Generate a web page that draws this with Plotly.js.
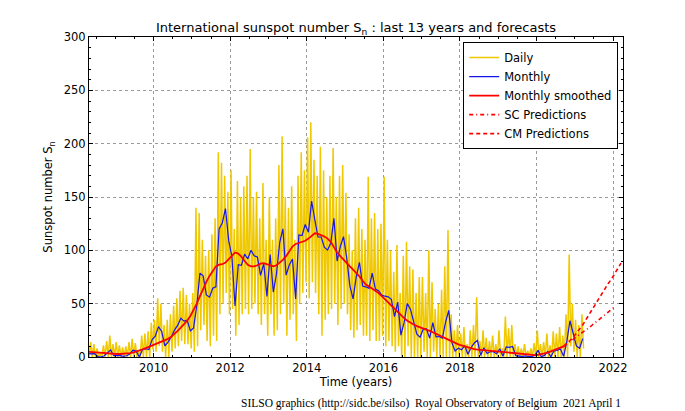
<!DOCTYPE html>
<html><head><meta charset="utf-8">
<script src="https://cdn.plot.ly/plotly-3.0.1.min.js"></script>
<style>html,body{margin:0;padding:0;background:#fff;}#chart{width:685px;height:411px;}</style>
</head><body><div id="chart"></div>
<script>
// First month of the data series: April 2008
const startYear = 2008, startMonth = 4;

// Monthly mean sunspot number, Apr 2008 .. Mar 2021
const monthly = [
  2.9, 2.9, 3.1, 0.5, 0.0, 1.2, 4.2, 6.6, 1.2,
  1.3, 1.2, 0.6, 1.2, 2.9, 6.3, 5.5, 0.0, 7.1, 7.7, 6.9, 16.3,
  19.5, 28.5, 24.0, 10.4, 13.9, 18.8, 25.2, 29.6, 36.4, 33.6, 34.4, 24.5,
  27.3, 48.3, 78.6, 76.1, 58.2, 56.1, 64.5, 65.8, 120.1, 125.7, 139.1, 109.3,
  94.4, 47.8, 86.6, 85.9, 96.5, 92.0, 100.1, 94.8, 93.7, 76.5, 87.6, 56.8,
  96.1, 60.9, 78.3, 107.3, 120.2, 76.7, 86.2, 91.8, 54.5, 114.4, 113.9, 124.2,
  117.0, 146.1, 128.7, 112.5, 112.5, 102.9, 100.2, 106.9, 130.0, 90.0, 103.6, 112.9,
  93.0, 66.7, 54.5, 75.3, 88.8, 66.5, 65.8, 64.4, 78.6, 63.6, 62.2, 58.0,
  57.0, 56.4, 54.1, 37.9, 51.5, 20.5, 32.4, 50.2, 44.6, 33.4, 21.4, 18.5,
  26.1, 26.4, 17.7, 32.3, 18.9, 19.2, 17.8, 32.6, 43.7, 13.2, 5.7, 8.2,
  6.8, 10.7, 2.5, 8.9, 13.1, 15.6, 1.6, 8.7, 3.3, 4.9, 4.9, 3.1,
  7.7, 0.8, 9.4, 9.1, 9.9, 1.2, 0.9, 0.5, 1.1, 0.4, 0.5, 1.5,
  6.2, 0.2, 1.5, 5.2, 0.2, 5.8, 6.1, 7.5, 0.6, 14.4, 34.0, 23.1,
  10.4, 8.2, 17.2
];

// 13-month smoothed sunspot number, Apr 2008 .. Sep 2020
const smoothed = [
  4.8, 4.5, 4.2, 3.9, 3.6, 3.4, 3.2, 3.0, 2.9,
  2.8, 2.8, 2.9, 3.2, 3.6, 4.2, 5.0, 6.0, 7.2, 8.4, 9.6, 11.0,
  12.4, 13.5, 14.5, 15.6, 17.0, 19.0, 21.5, 24.5, 27.5, 30.5, 34.0, 38.5,
  44.0, 50.0, 57.0, 64.0, 70.5, 76.0, 81.0, 85.0, 86.5, 87.0, 88.5, 92.0,
  95.5, 98.0, 97.0, 94.0, 90.0, 86.5, 85.0, 85.0, 86.0, 87.5, 88.0, 87.0,
  85.5, 85.0, 86.0, 88.5, 91.0, 94.5, 99.0, 103.5, 106.0, 107.0, 107.5, 109.0,
  111.0, 113.5, 116.0, 115.5, 114.5, 113.0, 111.0, 108.0, 103.0, 98.0, 94.5, 91.0,
  88.0, 85.0, 82.0, 79.0, 75.5, 71.5, 68.0, 66.0, 64.0, 62.0, 60.0, 57.0,
  54.0, 51.0, 48.0, 45.0, 42.0, 39.0, 36.5, 34.0, 32.0, 30.5, 29.0, 28.0,
  27.0, 25.8, 24.5, 23.2, 22.0, 20.5, 19.0, 17.5, 16.0, 14.5, 13.0, 11.8,
  10.8, 9.8, 8.9, 8.0, 7.4, 7.0, 6.7, 6.4, 6.0, 5.6, 5.2, 4.8,
  4.4, 4.1, 3.8, 3.5, 3.2, 2.9, 2.6, 2.4, 2.2, 2.0, 1.9, 1.8,
  2.1, 2.6, 3.3, 4.2, 5.2, 6.4, 7.6, 8.8, 10.0
];

// Daily values: highest and lowest day of each month, Apr 2008 .. Mar 2021
const dailyHigh = [
  22, 14, 12, 8, 3, 11, 15, 20, 12,
  14, 11, 9, 10, 14, 17, 13, 5, 20, 22, 24, 32,
  35, 55, 50, 30, 35, 40, 48, 55, 62, 65, 58, 50,
  60, 140, 135, 110, 95, 100, 115, 130, 192, 182, 170, 155,
  175, 120, 165, 150, 160, 170, 195, 150, 155, 130, 163, 110,
  150, 110, 130, 180, 207, 150, 140, 160, 110, 170, 192, 175,
  206, 220, 185, 170, 197, 175, 150, 170, 196, 150, 170, 180,
  154, 115, 100, 130, 140, 120, 110, 169, 130, 135, 120, 125,
  169, 110, 100, 80, 105, 60, 95, 108, 85, 82, 60, 75,
  75, 60, 100, 70, 45, 50, 63, 85, 119, 40, 25, 30,
  22, 28, 12, 25, 30, 56, 15, 25, 18, 15, 20, 12,
  25, 8, 38, 27, 30, 12, 10, 8, 12, 6, 8, 13,
  25, 12, 14, 22, 11, 24, 22, 28, 20, 40, 96, 50,
  35, 30, 40
];
const dailyLow = [
  0, 0, 0, 0, 0, 0, 0, 0, 0,
  0, 0, 0, 0, 0, 0, 0, 0, 0, 0, 0, 7,
  5, 10, 5, 0, 0, 5, 8, 10, 15, 12, 12, 8,
  5, 10, 25, 30, 15, 10, 20, 15, 40, 50, 60, 40,
  45, 20, 30, 40, 45, 40, 45, 50, 40, 30, 40, 20,
  40, 20, 25, 40, 50, 20, 35, 40, 15, 50, 60, 70,
  55, 70, 60, 40, 20, 35, 40, 45, 50, 30, 45, 50,
  40, 25, 18, 25, 30, 20, 20, 15, 25, 15, 15, 20,
  10, 15, 10, 5, 10, 0, 0, 10, 0, 0, 0, 0,
  5, 0, 0, 5, 0, 0, 0, 0, 0, 0, 0, 0,
  0, 0, 0, 0, 0, 0, 0, 0, 0, 0, 0, 0,
  0, 0, 0, 0, 0, 0, 0, 0, 0, 0, 0, 0,
  0, 0, 0, 0, 0, 0, 0, 0, 0, 0, 10, 5,
  0, 0, 8
];

// Forecasts, both starting Sep 2020
const predStartYear = 2020, predStartMonth = 9;
const scPred = [10, 12, 14, 16.5, 19, 21, 23.5, 25.5, 27.5, 30, 32.5, 35, 37.5, 40, 42, 44.5, 47];
const cmPred = [10, 12.5, 15.5, 18.5, 22, 26, 30, 35, 40, 45, 50, 54, 59, 64, 69, 73, 78, 83, 88];

const footer = 'SILSO graphics (http://sidc.be/silso)\u00a0 Royal Observatory of Belgium\u00a0 2021 April 1';

function decYear(y0, m0, i) {
  const m = m0 - 1 + i;
  return y0 + Math.floor(m / 12) + ((m % 12) + 0.5) / 12;
}
const monthX = monthly.map((_, i) => decYear(startYear, startMonth, i));
const smoothX = smoothed.map((_, i) => decYear(startYear, startMonth, i));
const dX = [], dY = [];
dailyHigh.forEach((h, i) => {
  const c = decYear(startYear, startMonth, i);
  dX.push(c - 0.25 / 12); dY.push(h);
  dX.push(c + 0.25 / 12); dY.push(dailyLow[i]);
});
const scX = scPred.map((_, i) => decYear(predStartYear, predStartMonth, i));
const cmX = cmPred.map((_, i) => decYear(predStartYear, predStartMonth, i));

const traces = [
  {x: dX, y: dY, type: 'scatter', mode: 'lines', name: 'Daily',
   line: {color: 'rgb(240,200,0)', width: 1.5}},
  {x: monthX, y: monthly, type: 'scatter', mode: 'lines', name: 'Monthly',
   line: {color: '#1515ee', width: 1.2}},
  {x: smoothX, y: smoothed, type: 'scatter', mode: 'lines', name: 'Monthly smoothed',
   line: {color: '#ff0000', width: 1.8}},
  {x: scX, y: scPred, type: 'scatter', mode: 'lines', name: 'SC Predictions',
   line: {color: '#ff0000', width: 1.6, dash: '4px,3px,1px,3px'}},
  {x: cmX, y: cmPred, type: 'scatter', mode: 'lines', name: 'CM Predictions',
   line: {color: '#ff0000', width: 1.6, dash: '4px,3px'}}
];

const axisCommon = {
  showline: true, linecolor: 'black', linewidth: 1, mirror: 'allticks',
  ticks: 'inside', ticklen: 4, tickcolor: 'black', tickwidth: 1,
  showgrid: true, gridcolor: '#9a9a9a', griddash: 'dot', gridwidth: 1,
  zeroline: false, tickfont: {size: 11.5, color: 'black'}
};

const layout = {
  width: 685, height: 411,
  margin: {l: 89, r: 62, t: 37, b: 54},
  paper_bgcolor: 'white', plot_bgcolor: 'white',
  font: {family: 'DejaVu Sans, sans-serif', size: 11.5, color: 'black'},
  showlegend: true,
  title: {text: 'International sunspot number S<sub>n</sub> : last 13 years and forecasts',
          font: {size: 13, color: 'black'}, xref: 'paper', x: 0.5, xanchor: 'center',
          yref: 'container', y: 1 - 27.5 / 411, yanchor: 'middle'},
  xaxis: Object.assign({}, axisCommon, {
    range: [2008.31, 2022.26], tick0: 2010, dtick: 2,
    minor: {dtick: 0.5, tick0: 2010, ticks: 'inside', ticklen: 2, tickcolor: 'black', showgrid: false},
    title: {text: 'Time (years)', font: {size: 11.5}, standoff: 4}
  }),
  yaxis: Object.assign({}, axisCommon, {
    range: [0, 300], tick0: 0, dtick: 50,
    minor: {dtick: 10, tick0: 0, ticks: 'inside', ticklen: 2, tickcolor: 'black', showgrid: false},
    title: {text: 'Sunspot number S<sub>n</sub>', font: {size: 11.5}, standoff: 8}
  }),
  legend: {x: 0.991, xanchor: 'right', y: 0.984, yanchor: 'top',
           bgcolor: 'white', bordercolor: 'black', borderwidth: 1,
           font: {size: 11.5}, tracegroupgap: 0},
  annotations: [{text: footer, xref: 'paper', yref: 'paper', x: 1.0, xanchor: 'right',
                 y: (357 - 403) / 320, yanchor: 'middle', showarrow: false,
                 font: {family: 'Liberation Serif, serif', size: 11.5, color: 'black'}}]
};

Plotly.newPlot('chart', traces, layout, {displayModeBar: false, staticPlot: true});
</script>
</body></html>
